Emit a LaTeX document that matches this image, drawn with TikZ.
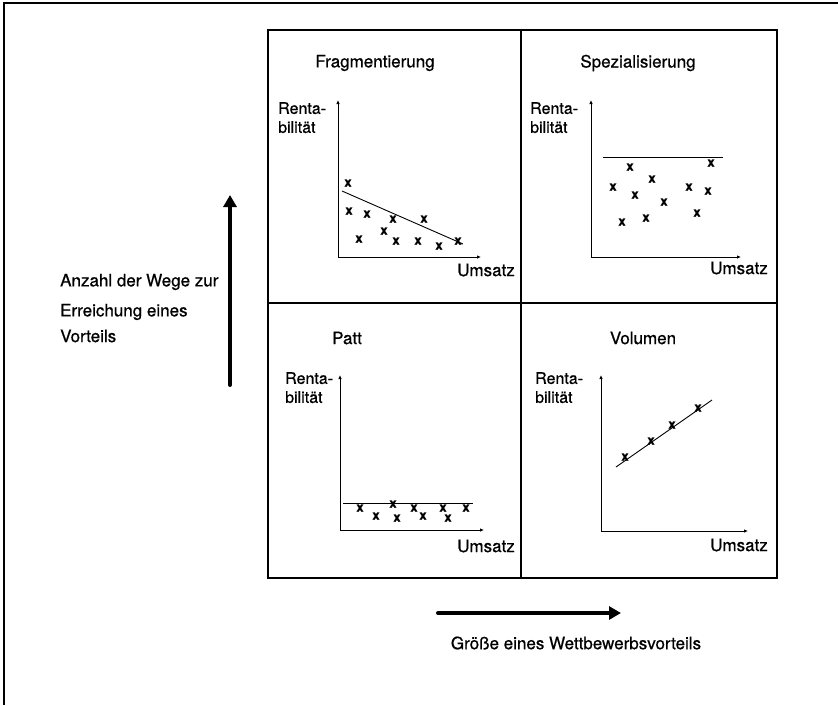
\documentclass[tikz,border=0pt]{standalone}
\usepackage{fontspec}
\setmainfont{TeX Gyre Heros}[FakeBold=0.7]
\usetikzlibrary{arrows.meta}
\begin{document}
\begin{tikzpicture}[x=1pt,y=-1pt,
  lbl/.style={font=\fontsize{17}{20}\selectfont, inner sep=0pt},
  ylbl/.style={font=\fontsize{16}{19}\selectfont, inner sep=0pt, align=left, anchor=north west},
  cross/.style={font=\fontsize{13}{13}\selectfont\bfseries, inner sep=0pt},
  gridline/.style={line width=1.2pt},
  axis/.style={line width=0.9pt, -{Latex[length=4pt,width=3.5pt]}},
  fitline/.style={line width=0.9pt},
  bigarrow/.style={line width=4pt, line cap=round, -{Triangle[length=12pt,width=13pt]}}
]
\useasboundingbox (0,0) rectangle (838,705);
% outer frame
\draw[line width=1.5pt] (4,705) -- (4,3) -- (838,3);
% grid
\draw[gridline] (268,30) rectangle (777,578);
\draw[gridline] (521,30) -- (521,578);
\draw[gridline] (268,303) -- (777,303);

% ---------- Fragmentierung ----------
\node[lbl] (tF) at (375,63) {Fragmentierung};
\coordinate (fO) at (338,257);
\coordinate (fY) at (338,100);
\coordinate (fX) at (481,257);
\draw[axis] (fO) -- (fY);
\draw[axis] (fO) -- (fX);
\node[ylbl] (yF) at (278,102) {Renta-\\bilität};
\node[lbl, anchor=east] (xF) at (515,270) {Umsatz};
\coordinate (fa) at (342,191);
\coordinate (fb) at (463,244);
\draw[fitline] (fa) -- (fb);
\foreach \p [count=\i] in {(348,183),(349,211),(367,214),(393,219),(424,219),(384,231),(359,239),(396,241),(418,241),(439,246),(458,241)}
  \node[cross] (cf\i) at \p {x};

% ---------- Spezialisierung ----------
\node[lbl] (tS) at (638,63) {Spezialisierung};
\coordinate (sO) at (591,257);
\coordinate (sY) at (591,100);
\coordinate (sX) at (741,257);
\draw[axis] (sO) -- (sY);
\draw[axis] (sO) -- (sX);
\node[ylbl] (yS) at (530,102) {Renta-\\bilität};
\node[lbl, anchor=east] (xS) at (768,268) {Umsatz};
\coordinate (sa) at (603,157);
\coordinate (sb) at (723,157);
\draw[fitline] (sa) -- (sb);
\foreach \p [count=\i] in {(630,167),(711,163),(652,179),(613,187),(635,195),(689,187),(708,191),(664,202),(697,213),(622,222),(646,218)}
  \node[cross] (cs\i) at \p {x};

% ---------- Patt ----------
\node[lbl] (tP) at (347,338) {Patt};
\coordinate (pO) at (340,530);
\coordinate (pY) at (340,375);
\coordinate (pX) at (484,530);
\draw[axis] (pO) -- (pY);
\draw[axis] (pO) -- (pX);
\node[ylbl] (yP) at (285,372) {Renta-\\bilität};
\node[lbl, anchor=east] (xP) at (515,546) {Umsatz};
\coordinate (pa) at (343,503);
\coordinate (pb) at (473,503);
\draw[fitline] (pa) -- (pb);
\foreach \p [count=\i] in {(360,508),(393,504),(414,508),(443,508),(466,508),(376,516),(397,518),(423,516),(448,518)}
  \node[cross] (cp\i) at \p {x};

% ---------- Volumen ----------
\node[lbl] (tV) at (643,338) {Volumen};
\coordinate (vO) at (601,531);
\coordinate (vY) at (601,375);
\coordinate (vX) at (748,531);
\draw[axis] (vO) -- (vY);
\draw[axis] (vO) -- (vX);
\node[ylbl] (yV) at (535,372) {Renta-\\bilität};
\node[lbl, anchor=east] (xV) at (768,545) {Umsatz};
\coordinate (va) at (616,467);
\coordinate (vb) at (712,400);
\draw[fitline] (va) -- (vb);
\foreach \p [count=\i] in {(625,457),(651,441),(672,425),(698,408)}
  \node[cross] (cv\i) at \p {x};

% ---------- big arrows and labels ----------
\coordinate (vs) at (230,385);
\coordinate (ve) at (230,195);
\draw[bigarrow] (vs) -- (ve);
\node[lbl, anchor=west] (l1) at (60,282) {Anzahl der Wege zur};
\node[lbl, anchor=west] (l2) at (60,312) {Erreichung eines};
\node[lbl, anchor=west] (l3) at (60,336) {Vorteils};

\coordinate (hs) at (438,613);
\coordinate (he) at (621,613);
\draw[bigarrow] (hs) -- (he);
\node[lbl] (lh) at (576,643) {Größe eines Wettbewerbsvorteils};
\end{tikzpicture}
\end{document}
